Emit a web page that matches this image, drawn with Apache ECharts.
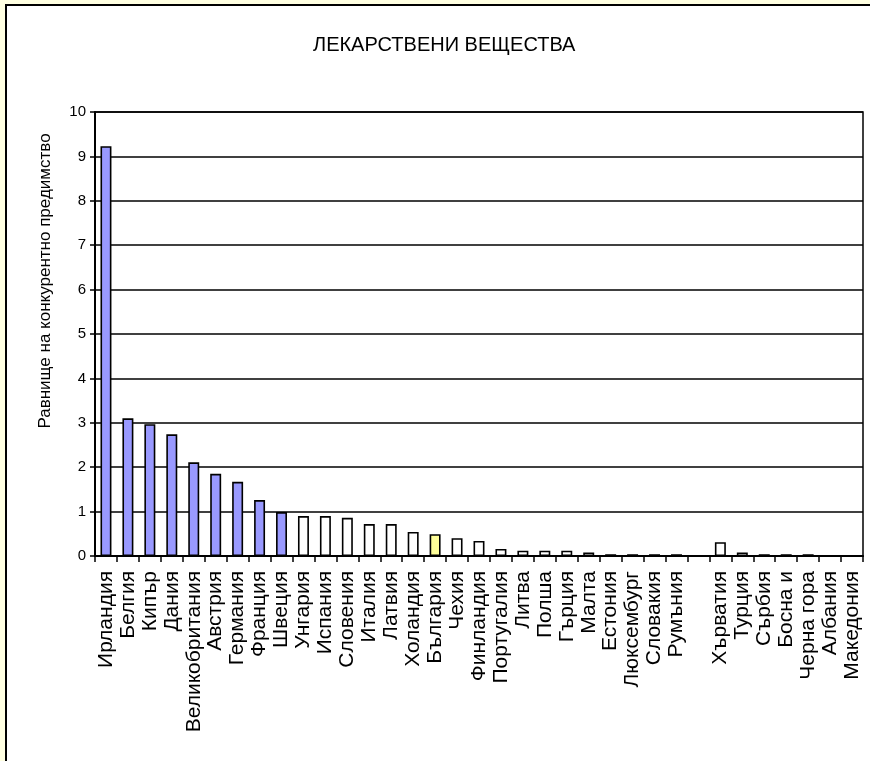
<!DOCTYPE html>
<html>
<head>
<meta charset="utf-8">
<script src="https://cdn.jsdelivr.net/npm/echarts@6/dist/echarts.min.js"></script>
<style>
  html, body { margin: 0; padding: 0; background: #FFFFE1; }
  #frame { position: absolute; left: 5px; top: 4px; width: 900px; height: 800px; background: #fff; border-left: 2px solid #000; border-top: 2px solid #000; }
  #chart { position: absolute; left: 0; top: 0; width: 870px; height: 761px; }
</style>
</head>
<body>
<div id="frame"></div>
<div id="chart"></div>
<script>
const titleText = 'ЛЕКАРСТВЕНИ ВЕЩЕСТВА';
const yAxisName = 'Равнище на конкурентно предимство';
const categories = ['Ирландия','Белгия','Кипър','Дания','Великобритания','Австрия','Германия','Франция','Швеция','Унгария','Испания','Словения','Италия','Латвия','Холандия','България','Чехия','Финландия','Португалия','Литва','Полша','Гърция','Малта','Естония','Люксембург','Словакия','Румъния','','Хърватия','Турция','Сърбия','Босна и','Черна гора','Албания','Македония'];
const values = [9.23,3.10,2.97,2.74,2.11,1.85,1.67,1.26,0.99,0.90,0.90,0.86,0.72,0.72,0.54,0.49,0.40,0.34,0.16,0.12,0.12,0.12,0.08,0.04,0.04,0.04,0.04,null,0.31,0.08,0.04,0.04,0.04,0,0];
const yTicks = [0,1,2,3,4,5,6,7,8,9,10];
const leaderCount = 9;          // first bars drawn in blue
const highlightName = 'България';

const font = "'Liberation Sans', Arial, sans-serif";
const chart = echarts.init(document.getElementById('chart'), null, { renderer: 'canvas' });
chart.setOption({
  animation: false,
  title: {
    text: titleText, left: 308, top: 30,
    textStyle: { fontFamily: font, fontSize: 20, fontWeight: 'normal', color: '#000' }
  },
  graphic: [{
    type: 'text', x: 45, y: 281, rotation: Math.PI / 2,
    style: { text: yAxisName, font: '17px ' + font, fill: '#000', align: 'center', verticalAlign: 'middle' }
  }],
  grid: { left: 95, top: 112, right: 7, bottom: 205, show: true, borderColor: '#000', borderWidth: 1.5, containLabel: false },
  xAxis: {
    type: 'category', data: categories,
    axisLine: { lineStyle: { color: '#000', width: 2 } },
    axisTick: { show: true, alignWithLabel: false, length: 6, lineStyle: { color: '#000', width: 1.5 } },
    axisLabel: { interval: 0, rotate: 90, margin: 15, fontFamily: font, fontSize: 21, color: '#000' }
  },
  yAxis: {
    type: 'value', min: yTicks[0], max: yTicks[yTicks.length - 1], interval: 1,
    axisLine: { show: true, lineStyle: { color: '#000', width: 2 } },
    axisTick: { show: true, length: 5, lineStyle: { color: '#000', width: 1.5 } },
    axisLabel: { fontFamily: font, fontSize: 15, color: '#000', margin: 9 },
    splitLine: { show: true, lineStyle: { color: '#000', width: 1.5 } }
  },
  series: [{
    type: 'bar', data: values, barWidth: '50%',
    itemStyle: {
      borderColor: '#000', borderWidth: 1.6,
      color: function (p) {
        if (p.name === highlightName) return '#FFFF99';
        return p.dataIndex < leaderCount ? '#9999FF' : '#FFFFFF';
      }
    }
  }]
});
</script>
</body>
</html>
